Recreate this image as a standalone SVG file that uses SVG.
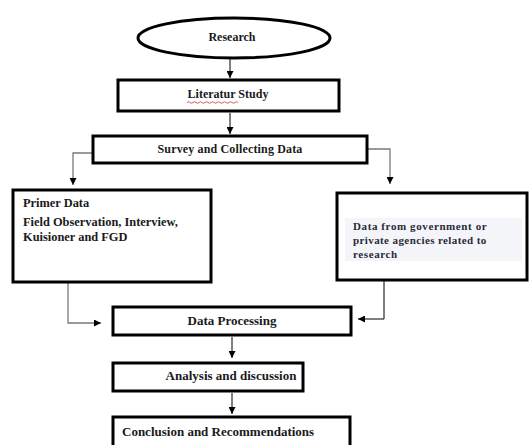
<svg xmlns="http://www.w3.org/2000/svg" width="529" height="445" viewBox="0 0 529 445">
<style>
.box{fill:#fff;stroke:#000;stroke-width:3}
.t{font-family:"Liberation Serif","Times New Roman",serif;font-weight:bold;font-size:12px;fill:#1a1a1a}
.b{font-size:13px}
.c{text-anchor:middle}
.ln{fill:none;stroke:#000;stroke-width:1}
.gr{fill:none;stroke:#7a7a7a;stroke-width:1.3}
</style>
<defs>
<marker id="ah" viewBox="0 0 8 8" refX="8" refY="4" markerWidth="7" markerHeight="7" markerUnits="userSpaceOnUse" orient="auto">
<path d="M0,0 L8,4 L0,8 Z" fill="#000"/>
</marker>
</defs>
<rect width="529" height="445" fill="#fff"/>
<g id="connectors">
<path class="ln" d="M230,59 V78" marker-end="url(#ah)"/>
<path class="ln" d="M230,113 V134" marker-end="url(#ah)"/>
<path class="gr" d="M93,153 H73 V185" marker-end="url(#ah)"/>
<path class="gr" d="M367,149 H390 V184" marker-end="url(#ah)"/>
<path class="gr" d="M68,283 V323 H101" marker-end="url(#ah)"/>
<path class="ln" d="M384,281 V319 H358" marker-end="url(#ah)"/>
<path class="ln" d="M232,337 V358" marker-end="url(#ah)"/>
<path class="ln" d="M232,393 V414" marker-end="url(#ah)"/>
</g>
<g id="research">
<ellipse class="box" cx="234" cy="38" rx="96" ry="20"/>
<text class="t c" x="232" y="41">Research</text>
</g>
<g id="literatur">
<rect class="box" x="118" y="80" width="221" height="31"/>
<text class="t c" x="228" y="98">Literatur Study</text>
<path d="M187,102.5 q1.5,-1.5 3,0 t3,0 t3,0 t3,0 t3,0 t3,0 t3,0 t3,0 t3,0 t3,0 t3,0 t3,0 t3,0 t3,0 t3,0 t3,0 t3,0" fill="none" stroke="#d03030" stroke-width="0.8"/>
</g>
<g id="survey">
<rect class="box" x="93" y="136" width="274" height="27"/>
<text class="t c" x="230" y="153" style="letter-spacing:0.15px">Survey and Collecting Data</text>
</g>
<g id="primer">
<rect class="box" x="13" y="190" width="198" height="92"/>
<text class="t" x="23" y="207" style="font-size:12.4px">Primer Data</text>
<text class="t" x="23" y="226" style="font-size:12.4px">Field Observation, Interview,</text>
<text class="t" x="23" y="241" style="font-size:12.4px">Kuisioner and FGD</text>
</g>
<g id="secondary">
<rect class="box" x="337" y="193" width="190" height="87"/>
<rect x="345" y="218" width="177" height="43" fill="#f4f5f9"/>
<text class="t" x="353" y="230" style="font-size:11px;letter-spacing:0.6px;fill:#2a2a3a">Data from government or</text>
<text class="t" x="353" y="244" style="font-size:11px;letter-spacing:0.4px;fill:#2a2a3a">private agencies related to</text>
<text class="t" x="353" y="258" style="font-size:11px;letter-spacing:0.6px;fill:#2a2a3a">research</text>
</g>
<g id="processing">
<rect class="box" x="113" y="307" width="238" height="28"/>
<text class="t b c" x="232" y="325">Data Processing</text>
</g>
<g id="analysis">
<rect class="box" x="113" y="363" width="190" height="28"/>
<text class="t b c" x="231" y="380">Analysis and discussion</text>
</g>
<g id="conclusion">
<rect class="box" x="113" y="417" width="237" height="40"/>
<text class="t b" x="122" y="436">Conclusion and Recommendations</text>
</g>
</svg>
